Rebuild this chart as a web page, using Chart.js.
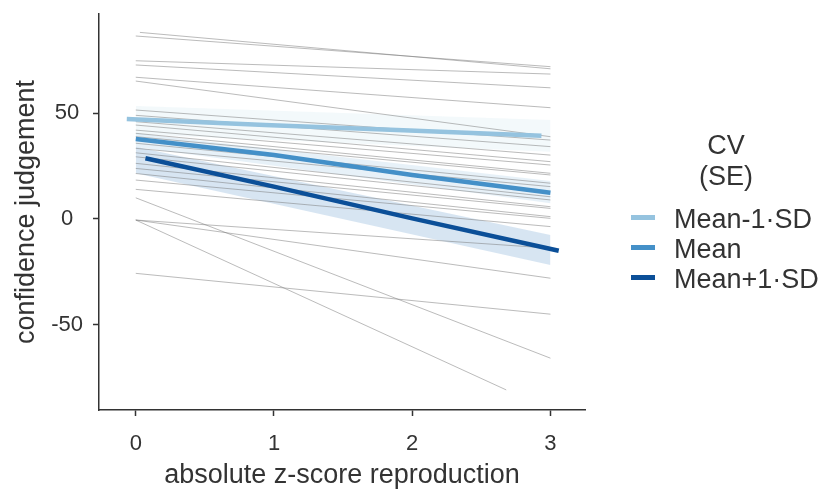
<!DOCTYPE html>
<html>
<head>
<meta charset="utf-8">
<script src="https://cdn.jsdelivr.net/npm/chart.js@4.4.1/dist/chart.umd.min.js"></script>
<style>
  body { margin: 0; background: #fff; font-family: 'Liberation Sans', Arial, sans-serif; }
  #wrap { position: relative; width: 825px; height: 494px; }
  #legend { position: absolute; left: 0; top: 0; color: #333; font-size: 27px; }
  #legend .title { position: absolute; left: 666px; top: 130px; width: 120px; text-align: center; line-height: 30.5px; }
  #legend .item { position: absolute; left: 674px; line-height: 30px; white-space: nowrap; }
  #legend .key { position: absolute; left: 631px; width: 24px; height: 5px; }
</style>
</head>
<body>
<div id="wrap">
  <canvas id="cvChart" width="825" height="494"></canvas>
  <div id="legend"></div>
</div>
<script>
  const fontFamily = "'Liberation Sans', Arial, sans-serif";
  const textColor = '#333';

  // axis ticks
  const xTicks = [0, 1, 2, 3];
  const yTicks = [-50, 0, 50];

  // individual participant slopes (start / end points)
  const subjX0 = [0.03, 0, 0, 0, 0, 0, 0, 0, 0, 0, 0, 0, 0, 0, 0, 0, 0, 0, 0, 0, 0, 0, 0, 0, 0, 0, 0];
  const subjY0 = [88.2, 86.5, 74.8, 72.8, 67, 65.2, 51.5, 49, 46, 44.4, 42, 40.5, 38.9, 35.8, 33.4, 31.3, 29.4, 26.3, 23.9, 21.5, 18.4, 14, 10, -0.5, -0.5, -0.5, -25.7];
  const subjX1 = [3, 3, 3, 3, 3, 3, 3, 3, 3, 3, 3, 3, 3, 3, 3, 3, 3, 3, 3, 3, 3, 3, 3, 3, 3, 2.68, 3];
  const subjY1 = [71, 72, 68.5, 62, 52.6, 38.9, 37.3, 34.2, 30.2, 27.1, 25.5, 21.6, 20.8, 16.9, 15.3, 10.5, 9, 5.8, 5, 1.1, 0.3, -3.6, -65.8, -13.8, -28, -80.8, -45];

  // CV groups
  const groupLabels = ['Mean-1\u00B7SD', 'Mean', 'Mean+1\u00B7SD'];
  const groupColors = ['#95c3df', '#4490c8', '#0b4f98'];
  const ribbonColors = ['rgba(158,202,225,0.12)', 'rgba(66,146,198,0.13)', 'rgba(33,113,181,0.18)'];

  const lowX = [-0.065, 0.935, 1.935, 2.935];
  const lowY = [47.3, 44.4, 42, 39.4];
  const meanX = [0, 1, 2, 3];
  const meanY = [37.8, 30.2, 20.8, 12.4];
  const highX = [0.07, 1, 2, 3.06];
  const highY = [28.7, 15.3, 0.3, -15];

  // SE ribbons
  const ribbonX = [0, 3];
  const lowUpper = [53.4, 46.8];
  const lowLower = [40, 31.8];
  const meanUpper = [40.5, 18];
  const meanLower = [34, 7.4];
  const highUpper = [34.2, -7.6];
  const highLower = [21.6, -21.7];

  const pts = (xs, ys) => xs.map((x, i) => ({ x: x, y: ys[i] }));

  const datasets = [];

  // ribbons first (drawn underneath)
  [[lowUpper, lowLower], [meanUpper, meanLower], [highUpper, highLower]].forEach((r, g) => {
    datasets.push({
      data: pts(ribbonX, r[0]), borderWidth: 0, pointRadius: 0, fill: false, order: 10
    });
    datasets.push({
      data: pts(ribbonX, r[1]), borderWidth: 0, pointRadius: 0,
      fill: '-1', backgroundColor: ribbonColors[g], order: 10
    });
  });

  // participant lines
  subjY0.forEach((y0, i) => {
    datasets.push({
      data: [{ x: subjX0[i], y: y0 }, { x: subjX1[i], y: subjY1[i] }],
      borderColor: 'rgba(120,120,120,0.5)', borderWidth: 1, pointRadius: 0, fill: false, order: 5
    });
  });

  // group lines
  [pts(lowX, lowY), pts(meanX, meanY), pts(highX, highY)].forEach((d, g) => {
    datasets.push({
      label: groupLabels[g], data: d, borderColor: groupColors[g], borderWidth: 4.5,
      pointRadius: 0, fill: false, order: 1
    });
  });

  var ctx = document.getElementById('cvChart').getContext('2d');
  new Chart(ctx, {
    type: 'scatter',
    data: { datasets: datasets },
    options: {
      responsive: false,
      animation: false,
      devicePixelRatio: 1,
      showLine: true,
      layout: { padding: { left: 0, top: 14, right: 240, bottom: 0 } },
      plugins: { legend: { display: false }, tooltip: { enabled: false } },
      scales: {
        x: {
          type: 'linear', min: -0.266, max: 3.25,
          afterBuildTicks: s => { s.ticks = xTicks.map(v => ({ value: v })); },
          afterFit: s => { s.height = 84; s.paddingLeft = 0; s.paddingRight = 0; },
          grid: { drawOnChartArea: false, drawTicks: true, tickLength: 6, tickColor: textColor, tickWidth: 1.5 },
          border: { display: true, color: textColor, width: 1.5 },
          ticks: { color: textColor, padding: 15, font: { family: fontFamily, size: 22 } },
          title: {
            display: true, text: 'absolute z-score reproduction', color: textColor,
            font: { family: fontFamily, size: 27 }, padding: { top: 0, bottom: 2 }
          }
        },
        y: {
          type: 'linear', min: -90.3, max: 96.9,
          afterBuildTicks: s => { s.ticks = yTicks.map(v => ({ value: v })); },
          afterFit: s => { s.width = 99; s.paddingTop = 0; s.paddingBottom = 0; },
          grid: { drawOnChartArea: false, drawTicks: true, tickLength: 6, tickColor: textColor, tickWidth: 1.5 },
          border: { display: true, color: textColor, width: 1.5 },
          ticks: { color: textColor, padding: 10, crossAlign: 'center', font: { family: fontFamily, size: 22 } },
          title: {
            display: true, text: 'confidence judgement', color: textColor,
            font: { family: fontFamily, size: 27 }, padding: { top: 10, bottom: 0 }
          }
        }
      }
    }
  });

  // legend
  const legend = document.getElementById('legend');
  const title = document.createElement('div');
  title.className = 'title';
  title.innerHTML = 'CV<br>(SE)';
  legend.appendChild(title);
  const keyY = [215, 245, 275];
  const labelTop = [204, 234, 264];
  groupLabels.forEach((lab, i) => {
    const key = document.createElement('div');
    key.className = 'key';
    key.style.top = keyY[i] + 'px';
    key.style.background = groupColors[i];
    legend.appendChild(key);
    const item = document.createElement('div');
    item.className = 'item';
    item.style.top = labelTop[i] + 'px';
    item.textContent = lab;
    legend.appendChild(item);
  });
</script>
</body>
</html>
